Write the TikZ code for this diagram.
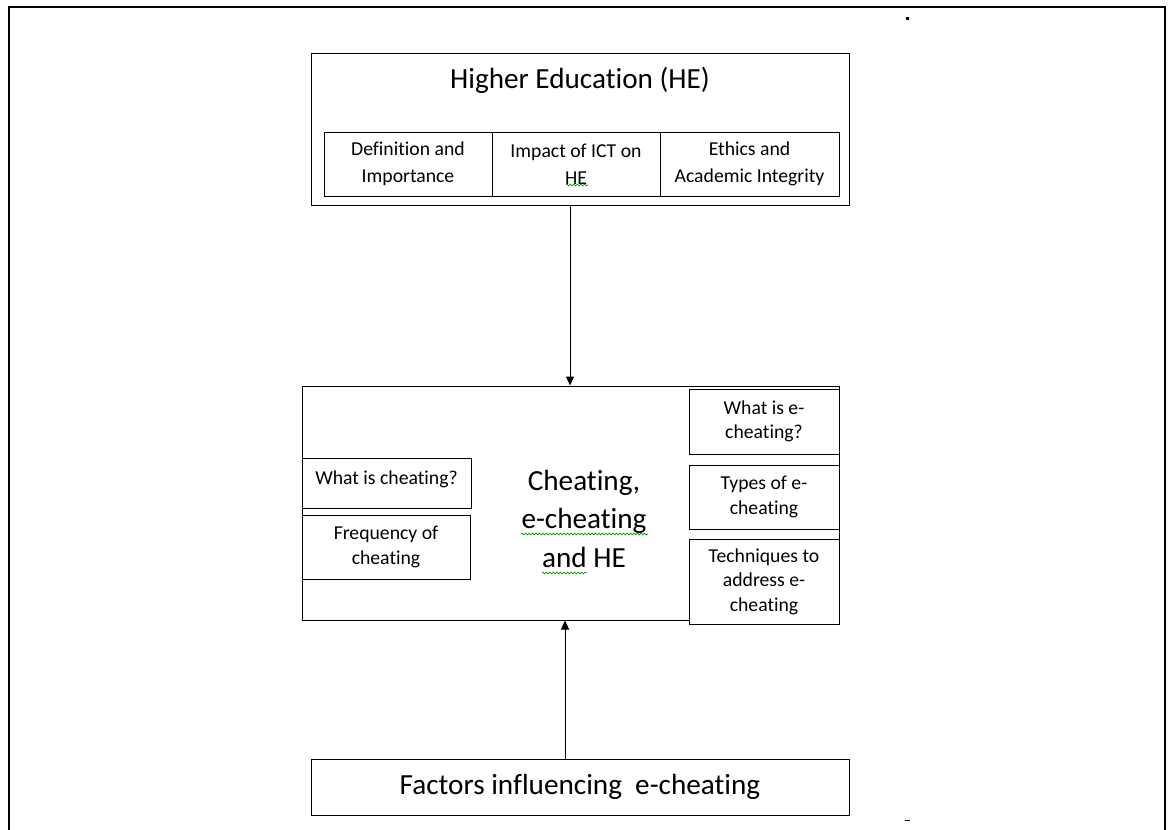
\documentclass[tikz,border=0pt]{standalone}
\usepackage{fontspec}
\setmainfont{Carlito}[Ligatures=NoCommon]
\usetikzlibrary{arrows.meta,decorations.pathmorphing}
\begin{document}
\begin{tikzpicture}[x=1pt,y=-1pt,
  box/.style={draw, line width=1pt, inner sep=0pt, align=center, fill=white},
  smallcell/.style={font=\fontsize{19.7}{24.5}\selectfont},
  topcell/.style={font=\fontsize{19.7}{27}\selectfont},
  bigtext/.style={font=\fontsize{29.2}{38.5}\selectfont, align=center, inner sep=0pt},
  arr/.style={line width=1pt, -{Triangle[length=9pt,width=8pt]}},
  squiggle/.style={draw=green!60!black, line width=0.7pt, decorate,
    decoration={snake, amplitude=0.9pt, segment length=3.5pt}}]
\useasboundingbox (0,0) rectangle (1168,830);
\clip (0,0) rectangle (1168,830);
% outer frame
\draw[line width=2.2pt] (9,845) -- (9,7) -- (1165,7) -- (1165,845);
\fill (905.5,16.5) rectangle (908.5,19.5);
\fill (905,819.5) rectangle (910,821);
% top box
\node[box, minimum width=538, minimum height=152] (he) at (580,129) {};
\node[bigtext, anchor=base] (het) at (580,88) {Higher Education (HE)};
\node[box, topcell, minimum width=168, minimum height=64] (c1) at (408,164) {Definition and\\Importance};
\node[box, topcell, minimum width=168, minimum height=64] (c2) at (576,164) {Impact of ICT on\\HE};
\node[box, topcell, minimum width=179, minimum height=64] (c3) at (749.5,164) {Ethics and\\Academic Integrity};
\draw[squiggle] (566,185) -- (588,185);
% middle box
\node[box, minimum width=537, minimum height=234] (mid) at (570.5,503) {};
\node[bigtext] (midt) at (584,518.5) {Cheating,\\e-cheating\\and HE};
\draw[squiggle] (521,534) -- (648,534);
\draw[squiggle] (542,573) -- (587,573);
\node[box, minimum width=169, minimum height=50] (l1) at (386.5,483) {};
\node[smallcell, anchor=base, inner sep=0pt] (l1t) at (386.5,484) {What is cheating?};
\node[box, smallcell, minimum width=168, minimum height=64] (l2) at (386,547) {Frequency of\\cheating};
\node[box, smallcell, minimum width=150, minimum height=65] (r1) at (764,421.5) {What is e-\\cheating?};
\node[box, smallcell, minimum width=150, minimum height=64] (r2) at (764,497) {Types of e-\\cheating};
\node[box, smallcell, minimum width=150, minimum height=85] (r3) at (764,581.5) {Techniques to\\address e-\\cheating};
% bottom box
\node[box, minimum width=538, minimum height=56, font=\fontsize{29.2}{38.5}\selectfont] (fac) at (580,787) {Factors influencing\ \ e-cheating};
% arrows
\coordinate (ax) at (570,0);
\coordinate (bx) at (565,0);
\draw[arr] (ax |- he.south) -- (ax |- mid.north);
\draw[arr] (bx |- fac.north) -- (bx |- mid.south);
\end{tikzpicture}
\end{document}
